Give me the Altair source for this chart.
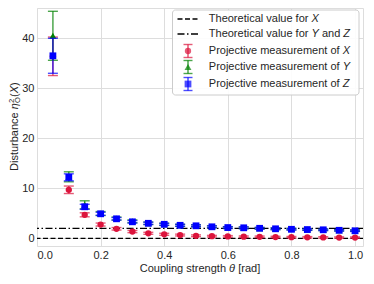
import altair as alt
import pandas as pd

# ---------------- data ----------------
theta = [0.05, 0.10, 0.15, 0.20, 0.25, 0.30, 0.35, 0.40, 0.45, 0.50,
         0.55, 0.60, 0.65, 0.70, 0.75, 0.80, 0.85, 0.90, 0.95, 1.00]
x_vals = [36.4, 9.7, 4.7, 2.75, 1.9, 1.35, 1.0, 0.8, 0.65, 0.5,
          0.42, 0.38, 0.32, 0.3, 0.25, 0.22, 0.2, 0.18, 0.15, 0.14]
x_err = [3.85, 0.75, 0.4, 0.3, 0.25, 0.22, 0.2, 0.2, 0.18, 0.18,
         0.16, 0.16, 0.15, 0.15, 0.15, 0.14, 0.14, 0.14, 0.13, 0.13]
y_vals = [40.5, 12.3, 6.7, 4.95, 3.95, 3.4, 3.0, 2.8, 2.6, 2.5,
          2.3, 2.15, 2.1, 2.0, 1.9, 1.85, 1.75, 1.7, 1.6, 1.55]
y_err = [4.9, 1.0, 0.8, 0.4, 0.3, 0.28, 0.25, 0.22, 0.2, 0.2,
         0.2, 0.18, 0.18, 0.17, 0.17, 0.16, 0.16, 0.15, 0.15, 0.15]
z_vals = [36.5, 12.2, 6.3, 4.9, 3.9, 3.3, 3.0, 2.8, 2.6, 2.5,
          2.3, 2.15, 2.1, 2.0, 1.9, 1.8, 1.75, 1.7, 1.6, 1.5]
z_err = [3.5, 0.7, 0.5, 0.3, 0.25, 0.25, 0.22, 0.2, 0.2, 0.18,
         0.18, 0.17, 0.17, 0.16, 0.16, 0.15, 0.15, 0.15, 0.14, 0.14]

series_names = ["X", "Y", "Z"]
series_colors = ["#dc143c", "#008000", "#0000ff"]
series_shapes = ["circle", "triangle-up", "square"]
series_sizes = [40, 48, 46]

theory_x = 0.0
theory_yz = 2.0

x_ticks = [0.0, 0.2, 0.4, 0.6, 0.8, 1.0]
y_ticks = [0, 10, 20, 30, 40]

# ---------------- style ----------------
FONT = "Liberation Sans"
TC = "#262626"
GRID = "#dddddd"
W, H = 326, 238

xscale = alt.Scale(domain=[0, 1.025], nice=False, zero=False)
yscale = alt.Scale(domain=[-1.54, 46.06], nice=False, zero=False)
xaxis = alt.Axis(values=x_ticks, format=".1f", title=None, grid=True, gridColor=GRID,
                 domain=False, ticks=False, labelFontSize=11, labelColor=TC,
                 labelFont=FONT, labelPadding=3)
yaxis = alt.Axis(values=y_ticks, format="d", title=None, grid=True, gridColor=GRID,
                 domain=False, ticks=False, labelFontSize=11, labelColor=TC,
                 labelFont=FONT, labelPadding=3)


def X():
    return alt.X("theta:Q", scale=xscale, axis=xaxis)


def Y(field="value"):
    return alt.Y(f"{field}:Q", scale=yscale, axis=yaxis)


layers = []

# theoretical lines
layers.append(alt.Chart(pd.DataFrame({"value": [theory_x]})).mark_rule(
    color="black", strokeWidth=1.3, strokeDash=[5, 2.5]).encode(y=Y()))
layers.append(alt.Chart(pd.DataFrame({"value": [theory_yz]})).mark_rule(
    color="black", strokeWidth=1.3, strokeDash=[7, 2.5, 1.5, 2.5]).encode(y=Y()))

vals = [x_vals, y_vals, z_vals]
errs = [x_err, y_err, z_err]
for name, v, e, col, shp, sz in zip(series_names, vals, errs, series_colors,
                                     series_shapes, series_sizes):
    df = pd.DataFrame({"theta": theta, "value": v, "err": e})
    df["lo"] = df["value"] - df["err"]
    df["hi"] = df["value"] + df["err"]
    base = alt.Chart(df)
    layers.append(base.mark_rule(color=col, strokeWidth=1.5, opacity=0.7).encode(
        x=X(), y=Y("lo"), y2="hi:Q"))
    layers.append(base.mark_tick(color=col, orient="horizontal", size=10, thickness=1.4,
                                 opacity=0.7).encode(x=X(), y=Y("lo")))
    layers.append(base.mark_tick(color=col, orient="horizontal", size=10, thickness=1.4,
                                 opacity=0.7).encode(x=X(), y=Y("hi")))
    layers.append(base.mark_point(color=col, shape=shp, size=sz, filled=True, opacity=1).encode(
        x=X(), y=Y("value")))

# ---------------- legend (manual, to allow italic letters) ----------------
one = pd.DataFrame({"a": [0]})


def txt(s, x, y, italic=False, size=11, angle=0, align="left"):
    return alt.Chart(pd.DataFrame({"t": [s]})).mark_text(
        align=align, baseline="middle", fontSize=size, font=FONT, color=TC,
        fontStyle="italic" if italic else "normal", angle=angle).encode(
        x=alt.value(x), y=alt.value(y), text="t:N")


LB_X1 = 322
LB_X0 = LB_X1 - 186.5
LB_Y0, LB_Y1 = 2, 87
layers.append(alt.Chart(one).mark_rect(fill="white", fillOpacity=0.9, stroke="#cccccc",
                                       strokeWidth=1, cornerRadius=3).encode(
    x=alt.value(LB_X0), x2=alt.value(LB_X1), y=alt.value(LB_Y0), y2=alt.value(LB_Y1)))

ent_y = [11, 26, 43, 59, 76]
sx0, sx1, mx, tx = LB_X0 + 5, LB_X0 + 27.5, LB_X0 + 15.5, LB_X0 + 36.3
layers.append(alt.Chart(one).mark_rule(color="black", strokeWidth=1.3, strokeDash=[5, 2.5]).encode(
    x=alt.value(sx0), x2=alt.value(sx1), y=alt.value(ent_y[0])))
layers.append(alt.Chart(one).mark_rule(color="black", strokeWidth=1.3,
                                       strokeDash=[7, 2.5, 1.5, 2.5]).encode(
    x=alt.value(sx0), x2=alt.value(sx1), y=alt.value(ent_y[1])))
for i, (col, shp, sz) in enumerate(zip(series_colors, series_shapes, series_sizes)):
    yy = ent_y[2 + i]
    layers.append(alt.Chart(one).mark_rule(color=col, strokeWidth=1.5, opacity=0.7).encode(
        x=alt.value(mx), y=alt.value(yy - 6.5), y2=alt.value(yy + 6.5)))
    for dy in (-6.5, 6.5):
        layers.append(alt.Chart(one).mark_rule(color=col, strokeWidth=1.4, opacity=0.7).encode(
            x=alt.value(mx - 4.5), x2=alt.value(mx + 4.5), y=alt.value(yy + dy)))
    layers.append(alt.Chart(one).mark_point(color=col, shape=shp, size=sz, filled=True).encode(
        x=alt.value(mx), y=alt.value(yy)))

FS = 11
w_theo = 9337 * FS / 1000      # "Theoretical value for "
w_proj = 12171 * FS / 1000     # "Projective measurement of "
layers.append(txt("Theoretical value for", tx, ent_y[0]))
layers.append(txt("X", tx + w_theo, ent_y[0], italic=True))
layers.append(txt("Theoretical value for", tx, ent_y[1]))
layers.append(txt("Y", tx + w_theo, ent_y[1], italic=True))
layers.append(txt("and", tx + w_theo + 7.3 + 3.1, ent_y[1]))
layers.append(txt("Z", tx + w_theo + 7.3 + 24.5, ent_y[1], italic=True))
for i, nm in enumerate(series_names):
    layers.append(txt("Projective measurement of", tx, ent_y[2 + i]))
    layers.append(txt(nm, tx + w_proj, ent_y[2 + i], italic=True))

# ---------------- axis titles (manual for italic symbols) ----------------
xt0, xty = 102.8, 261
layers.append(txt("Coupling strength", xt0, xty))
layers.append(txt("θ", xt0 + 8115 * FS / 1000, xty, italic=True))
layers.append(txt("[rad]", xt0 + 8115 * FS / 1000 + 6.1 + 3.1, xty))

# y title (rotated, reading bottom to top)
ytx, yt0 = -22, 163
y_eta = yt0 - 5613 * FS / 1000
y_sub = y_eta - 6.3
y_par = y_sub - 6.0
layers.append(txt("Disturbance", ytx, yt0, angle=270))
layers.append(txt("η", ytx, y_eta, italic=True, angle=270))
layers.append(txt("2", ytx - 3.0, y_sub, size=7.7, angle=270))
layers.append(txt("O", ytx + 3.0, y_sub, size=7.7, angle=270))
layers.append(txt("(", ytx, y_par, angle=270))
layers.append(txt("X", ytx, y_par - 3.7, italic=True, angle=270))
layers.append(txt(")", ytx, y_par - 3.7 - 7.3, angle=270))

chart = alt.layer(*layers).properties(width=W, height=H, padding=0).configure_view(
    stroke="#cccccc", strokeWidth=1.2).configure(background="white")

chart.save("out.html", embed_options={"renderer": "svg", "actions": False})
